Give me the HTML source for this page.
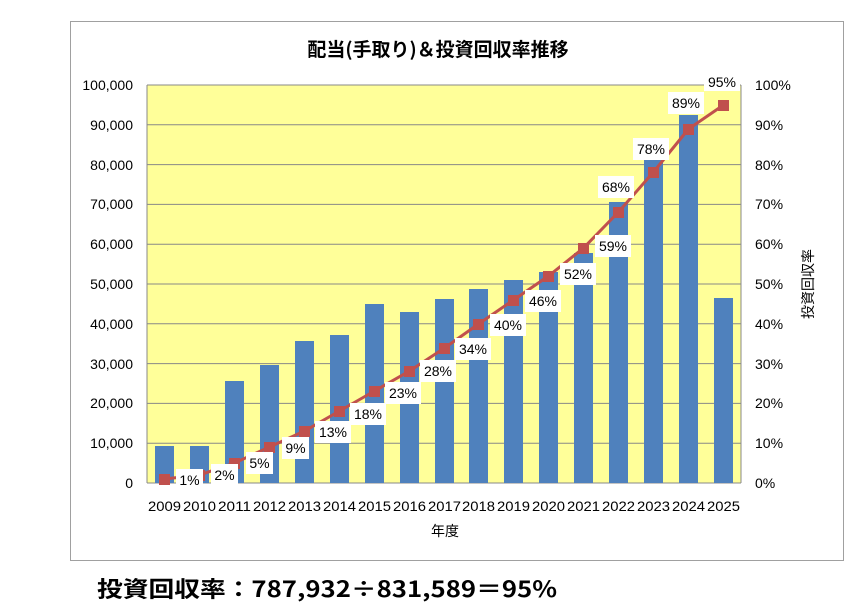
<!DOCTYPE html>
<html><head><meta charset="utf-8"><style>
body{margin:0;background:#fff;}
svg{display:block;font-family:"Liberation Sans","Noto Sans CJK JP",sans-serif;}
</style></head><body>
<svg width="859" height="605" viewBox="0 0 859 605" xmlns="http://www.w3.org/2000/svg">
<rect x="70.5" y="21.5" width="773" height="539" fill="#fff" stroke="#a0a0a0"/>
<text x="438" y="56" font-size="19" font-weight="bold" text-anchor="middle" font-family="'Noto Sans CJK JP',sans-serif">配当(手取り)＆投資回収率推移</text>
<rect x="147" y="85" width="594" height="398" fill="#ffff99"/>
<g stroke="#888" stroke-width="1">
<line x1="147" y1="85" x2="741" y2="85"/><line x1="147" y1="124.8" x2="741" y2="124.8"/><line x1="147" y1="164.6" x2="741" y2="164.6"/><line x1="147" y1="204.4" x2="741" y2="204.4"/><line x1="147" y1="244.2" x2="741" y2="244.2"/><line x1="147" y1="284" x2="741" y2="284"/><line x1="147" y1="323.8" x2="741" y2="323.8"/><line x1="147" y1="363.6" x2="741" y2="363.6"/><line x1="147" y1="403.4" x2="741" y2="403.4"/><line x1="147" y1="443.2" x2="741" y2="443.2"/>
<line x1="147" y1="85" x2="147" y2="483"/><line x1="741" y1="85" x2="741" y2="483"/><line x1="147" y1="483" x2="741" y2="483"/>
</g>
<g fill="#4f81bd">
<rect x="155" y="446" width="19" height="37"/><rect x="190" y="446" width="19" height="37"/><rect x="225" y="381" width="19" height="102"/><rect x="260" y="365" width="19" height="118"/><rect x="295" y="341" width="19" height="142"/><rect x="330" y="335" width="19" height="148"/><rect x="365" y="304" width="19" height="179"/><rect x="400" y="312" width="19" height="171"/><rect x="435" y="299" width="19" height="184"/><rect x="469" y="289" width="19" height="194"/><rect x="504" y="280" width="19" height="203"/><rect x="539" y="272" width="19" height="211"/><rect x="574" y="253" width="19" height="230"/><rect x="609" y="202" width="19" height="281"/><rect x="644" y="160" width="19" height="323"/><rect x="679" y="115" width="19" height="368"/><rect x="714" y="298" width="19" height="185"/>
</g>
<polyline fill="none" stroke="#c0504d" stroke-width="3" points="164.5,479 199.5,475 234.5,463 269.5,447 304.5,431 339.5,411 374.5,391 409.5,371 444.5,348 478.5,324 513.5,300 548.5,276 583.5,248 618.5,212 653.5,172 688.5,129 723.5,105"/>
<g fill="#c0504d">
<rect x="159" y="474" width="11" height="11"/><rect x="194" y="470" width="11" height="11"/><rect x="229" y="458" width="11" height="11"/><rect x="264" y="442" width="11" height="11"/><rect x="299" y="426" width="11" height="11"/><rect x="334" y="406" width="11" height="11"/><rect x="369" y="386" width="11" height="11"/><rect x="404" y="366" width="11" height="11"/><rect x="439" y="343" width="11" height="11"/><rect x="473" y="319" width="11" height="11"/><rect x="508" y="295" width="11" height="11"/><rect x="543" y="271" width="11" height="11"/><rect x="578" y="243" width="11" height="11"/><rect x="613" y="207" width="11" height="11"/><rect x="648" y="167" width="11" height="11"/><rect x="683" y="124" width="11" height="11"/><rect x="718" y="100" width="11" height="11"/>
</g>
<g fill="#fff">
<rect x="176" y="469" width="27" height="22"/><rect x="211" y="464" width="27" height="22"/><rect x="246" y="452" width="27" height="22"/><rect x="282" y="437" width="27" height="22"/><rect x="315" y="421" width="36" height="22"/><rect x="350" y="403" width="36" height="22"/><rect x="385" y="382" width="36" height="22"/><rect x="420" y="360" width="36" height="22"/><rect x="455" y="338" width="36" height="22"/><rect x="490" y="314" width="36" height="22"/><rect x="525" y="290" width="36" height="22"/><rect x="560" y="263" width="36" height="22"/><rect x="595" y="235" width="36" height="22"/><rect x="598" y="176" width="36" height="22"/><rect x="633" y="138" width="36" height="22"/><rect x="668" y="92" width="36" height="22"/><rect x="704" y="71" width="36" height="20"/>
</g>
<g font-size="14" fill="#000" text-anchor="middle">
<text x="189.5" y="485">1%</text><text x="224.5" y="480">2%</text><text x="259.5" y="468">5%</text><text x="295.5" y="453">9%</text><text x="333" y="437">13%</text><text x="368" y="419">18%</text><text x="403" y="398">23%</text><text x="438" y="376">28%</text><text x="473" y="354">34%</text><text x="508" y="330">40%</text><text x="543" y="306">46%</text><text x="578" y="279">52%</text><text x="613" y="251">59%</text><text x="616" y="192">68%</text><text x="651" y="154">78%</text><text x="686" y="108">89%</text><text x="722" y="87">95%</text>
</g>
<g font-size="14" fill="#000" text-anchor="end">
<text x="133" y="90">100,000</text><text x="133" y="130">90,000</text><text x="133" y="170">80,000</text><text x="133" y="209">70,000</text><text x="133" y="249">60,000</text><text x="133" y="289">50,000</text><text x="133" y="329">40,000</text><text x="133" y="369">30,000</text><text x="133" y="408">20,000</text><text x="133" y="448">10,000</text><text x="133" y="488">0</text>
</g>
<g font-size="14" fill="#000">
<text x="755" y="90">100%</text><text x="755" y="130">90%</text><text x="755" y="170">80%</text><text x="755" y="209">70%</text><text x="755" y="249">60%</text><text x="755" y="289">50%</text><text x="755" y="329">40%</text><text x="755" y="369">30%</text><text x="755" y="408">20%</text><text x="755" y="448">10%</text><text x="755" y="488">0%</text>
</g>
<g font-size="14" fill="#000" text-anchor="middle">
<text x="164.5" y="511" textLength="33" lengthAdjust="spacingAndGlyphs">2009</text><text x="199.5" y="511" textLength="33" lengthAdjust="spacingAndGlyphs">2010</text><text x="234.5" y="511" textLength="33" lengthAdjust="spacingAndGlyphs">2011</text><text x="269.5" y="511" textLength="33" lengthAdjust="spacingAndGlyphs">2012</text><text x="304.5" y="511" textLength="33" lengthAdjust="spacingAndGlyphs">2013</text><text x="339.5" y="511" textLength="33" lengthAdjust="spacingAndGlyphs">2014</text><text x="374.5" y="511" textLength="33" lengthAdjust="spacingAndGlyphs">2015</text><text x="409.5" y="511" textLength="33" lengthAdjust="spacingAndGlyphs">2016</text><text x="444.5" y="511" textLength="33" lengthAdjust="spacingAndGlyphs">2017</text><text x="478.5" y="511" textLength="33" lengthAdjust="spacingAndGlyphs">2018</text><text x="513.5" y="511" textLength="33" lengthAdjust="spacingAndGlyphs">2019</text><text x="548.5" y="511" textLength="33" lengthAdjust="spacingAndGlyphs">2020</text><text x="583.5" y="511" textLength="33" lengthAdjust="spacingAndGlyphs">2021</text><text x="618.5" y="511" textLength="33" lengthAdjust="spacingAndGlyphs">2022</text><text x="653.5" y="511" textLength="33" lengthAdjust="spacingAndGlyphs">2023</text><text x="688.5" y="511" textLength="33" lengthAdjust="spacingAndGlyphs">2024</text><text x="723.5" y="511" textLength="33" lengthAdjust="spacingAndGlyphs">2025</text>
<text x="445" y="536" font-family="'Noto Sans CJK JP',sans-serif">年度</text>
</g>
<text transform="translate(813,284) rotate(-90)" font-size="14" text-anchor="middle" font-family="'Noto Sans CJK JP',sans-serif">投資回収率</text>
<text x="97" y="597" font-size="22" font-weight="bold" textLength="460" lengthAdjust="spacingAndGlyphs" font-family="'Noto Sans CJK JP',sans-serif">投資回収率：787,932÷831,589＝95%</text>
</svg>
</body></html>
